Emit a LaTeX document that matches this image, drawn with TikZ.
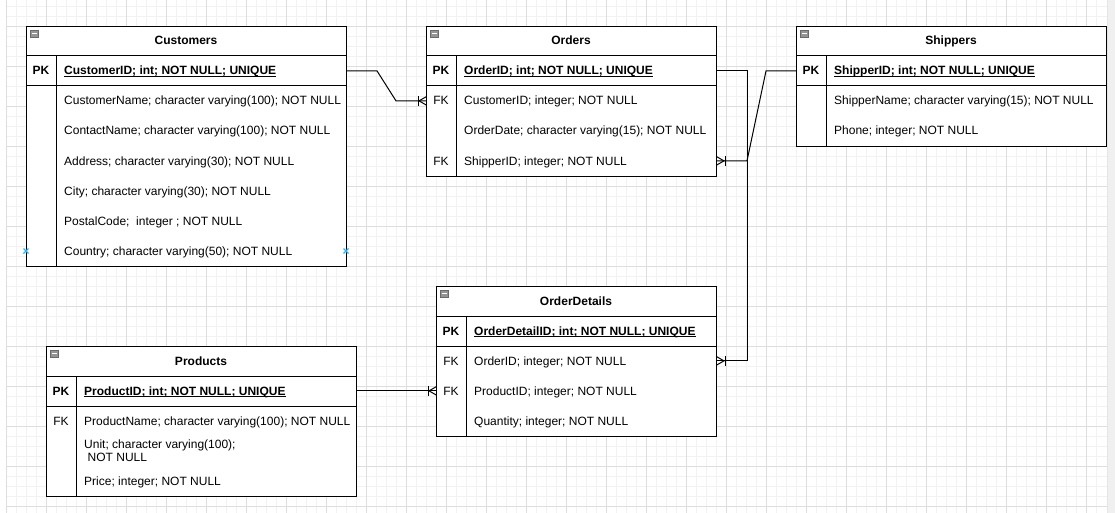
\documentclass[tikz,border=0pt]{standalone}
\usepackage{fontspec}
\setmainfont{Liberation Sans}
\newcommand\crowfoot[2]{%
  \draw[conn] (#1) ++({-8*(#2)},-5) -- ++(0,10);
  \draw[conn] (#1) ++(0,-4) -- ++({-7*(#2)},4) -- ++({7*(#2)},4);
}
\newcommand\tblicon[1]{%
  \filldraw[fill=black!42, draw=black!58, line width=0.6pt] (#1) ++(4.5,4.5) rectangle ++(8,6.5);
  \draw[white, line width=1pt] (#1) ++(6,7.8) -- ++(5,0);
}
\begin{document}
\begin{tikzpicture}[x=1pt,y=-1pt,
  every node/.style={font=\fontsize{12}{14}\selectfont, inner sep=0pt, text=black},
  hdr/.style={anchor=base, font=\fontsize{12}{14}\selectfont\bfseries},
  fld/.style={anchor=base west},
  key/.style={anchor=base},
  pkkey/.style={anchor=base, font=\fontsize{12}{14}\selectfont\bfseries},
  pkfld/.style={anchor=base west, font=\fontsize{12}{14}\selectfont\bfseries},
  tbl/.style={draw=black, fill=white, line width=1pt, anchor=north west, rectangle},
  sep/.style={draw=black, line width=1pt},
  conn/.style={draw=black, line width=1pt},
  ul/.style={draw=black, line width=0.9pt},
  minorgrid/.style={draw=black!5, line width=0.8pt},
  majorgrid/.style={draw=black!13, line width=0.8pt},
  xmark/.style={draw={rgb,255:red,41;green,182;blue,242}, line width=1.1pt},
  ]
\useasboundingbox (0,0) rectangle (1115,513);
\fill[white] (0,0) rectangle (1115,513);
% grid
\foreach \x in {16,26,...,1096} \draw[minorgrid] (\x,0) -- (\x,513);
\foreach \y in {6,16,...,506} \draw[minorgrid] (6,\y) -- (1107,\y);
\foreach \x in {6,46,...,1086} \draw[majorgrid] (\x,0) -- (\x,513);
\foreach \y in {26,66,...,506} \draw[majorgrid] (6,\y) -- (1107,\y);
\fill[black!6] (1107,0) rectangle (1115,513);
\draw[black!10, line width=0.8pt] (1107,0) -- (1107,513);

% ---------- Customers ----------
\node[tbl, minimum width=320, minimum height=240] (cust) at (26,26) {};
\draw[sep] (26,56) -- (346,56);
\draw[sep] (26,86) -- (346,86);
\draw[sep] (56,56) -- (56,266);
\tblicon{26,26}
\node[hdr] (custT) at (186,45) {Customers};
\node[pkkey] (custPKk) at (41,75) {PK};
\node[pkfld] (custPK) at (64,75) {CustomerID; int; NOT NULL; UNIQUE};
\draw[ul] ([yshift=-1.8pt]custPK.base west) -- ([yshift=-1.8pt]custPK.base east);
\node[fld] (custF1) at (64,105) {CustomerName; character varying(100); NOT NULL};
\node[fld] (custF2) at (64,135) {ContactName; character varying(100); NOT NULL};
\node[fld] (custF3) at (64,165) {Address; character varying(30); NOT NULL};
\node[fld] (custF4) at (64,195) {City; character varying(30); NOT NULL};
\node[fld] (custF5) at (64,225) {PostalCode;\ \ integer ; NOT NULL};
\node[fld] (custF6) at (64,255) {Country; character varying(50); NOT NULL};
\draw[xmark] (26,251) ++(-2.5,-2.5) -- ++(5,5) ++(0,-5) -- ++(-5,5);
\draw[xmark] (346,251) ++(-2.5,-2.5) -- ++(5,5) ++(0,-5) -- ++(-5,5);

% ---------- Orders ----------
\node[tbl, minimum width=290, minimum height=150] (ord) at (426,26) {};
\draw[sep] (426,56) -- (716,56);
\draw[sep] (426,86) -- (716,86);
\draw[sep] (456,56) -- (456,176);
\tblicon{426,26}
\node[hdr] (ordT) at (571,45) {Orders};
\node[pkkey] (ordPKk) at (441,75) {PK};
\node[pkfld] (ordPK) at (464,75) {OrderID; int; NOT NULL; UNIQUE};
\draw[ul] ([yshift=-1.8pt]ordPK.base west) -- ([yshift=-1.8pt]ordPK.base east);
\node[key] (ordFK1k) at (441,105) {FK};
\node[fld] (ordF1) at (464,105) {CustomerID; integer; NOT NULL};
\node[fld] (ordF2) at (464,135) {OrderDate; character varying(15); NOT NULL};
\node[key] (ordFK2k) at (441,165) {FK};
\node[fld] (ordF3) at (464,165) {ShipperID; integer; NOT NULL};

% ---------- Shippers ----------
\node[tbl, minimum width=310, minimum height=120] (shp) at (796,26) {};
\draw[sep] (796,56) -- (1106,56);
\draw[sep] (796,86) -- (1106,86);
\draw[sep] (826,56) -- (826,146);
\tblicon{796,26}
\node[hdr] (shpT) at (951,45) {Shippers};
\node[pkkey] (shpPKk) at (811,75) {PK};
\node[pkfld] (shpPK) at (834,75) {ShipperID; int; NOT NULL; UNIQUE};
\draw[ul] ([yshift=-1.8pt]shpPK.base west) -- ([yshift=-1.8pt]shpPK.base east);
\node[fld] (shpF1) at (834,105) {ShipperName; character varying(15); NOT NULL};
\node[fld] (shpF2) at (834,135) {Phone; integer; NOT NULL};

% ---------- OrderDetails ----------
\node[tbl, minimum width=280, minimum height=150] (od) at (436,286) {};
\draw[sep] (436,316) -- (716,316);
\draw[sep] (436,346) -- (716,346);
\draw[sep] (466,316) -- (466,436);
\tblicon{436,286}
\node[hdr] (odT) at (576,305) {OrderDetails};
\node[pkkey] (odPKk) at (451,335) {PK};
\node[pkfld] (odPK) at (474,335) {OrderDetailID; int; NOT NULL; UNIQUE};
\draw[ul] ([yshift=-1.8pt]odPK.base west) -- ([yshift=-1.8pt]odPK.base east);
\node[key] (odFK1k) at (451,365) {FK};
\node[fld] (odF1) at (474,365) {OrderID; integer; NOT NULL};
\node[key] (odFK2k) at (451,395) {FK};
\node[fld] (odF2) at (474,395) {ProductID; integer; NOT NULL};
\node[fld] (odF3) at (474,425) {Quantity; integer; NOT NULL};

% ---------- Products ----------
\node[tbl, minimum width=310, minimum height=150] (prod) at (46,346) {};
\draw[sep] (46,376) -- (356,376);
\draw[sep] (46,406) -- (356,406);
\draw[sep] (76,376) -- (76,496);
\tblicon{46,346}
\node[hdr] (prodT) at (201,365) {Products};
\node[pkkey] (prodPKk) at (61,395) {PK};
\node[pkfld] (prodPK) at (84,395) {ProductID; int; NOT NULL; UNIQUE};
\draw[ul] ([yshift=-1.8pt]prodPK.base west) -- ([yshift=-1.8pt]prodPK.base east);
\node[key] (prodFKk) at (61,425) {FK};
\node[fld] (prodF1) at (84,425) {ProductName; character varying(100); NOT NULL};
\node[fld] (prodF2a) at (84,448) {Unit; character varying(100);};
\node[fld] (prodF2b) at (87.5,461) {NOT NULL};
\node[fld] (prodF3) at (84,485) {Price; integer; NOT NULL};

% ---------- Connectors ----------
\coordinate (cA) at (cust.east |- custPKk);
\coordinate (oB) at (ord.west |- ordFK1k);
\draw[conn] (cA) -- ++(30,0) -- ([xshift=-30pt]oB) -- (oB);
\crowfoot{oB}{1}

\coordinate (oP) at (ord.east |- ordPKk);
\coordinate (dO) at (od.east |- odFK1k);
\draw[conn] (oP) -- ++(30,0) -- ([xshift=30pt]dO) -- (dO);
\crowfoot{dO}{-1}

\coordinate (sP) at (shp.west |- shpPKk);
\coordinate (oS) at (ord.east |- ordFK2k);
\draw[conn] (sP) -- ++(-30,0) -- ([xshift=30pt]oS) -- (oS);
\crowfoot{oS}{-1}

\coordinate (pP) at (prod.east |- prodPKk);
\coordinate (dP) at (od.west |- odFK2k);
\draw[conn] (pP) -- (dP);
\crowfoot{dP}{1}
\end{tikzpicture}
\end{document}
